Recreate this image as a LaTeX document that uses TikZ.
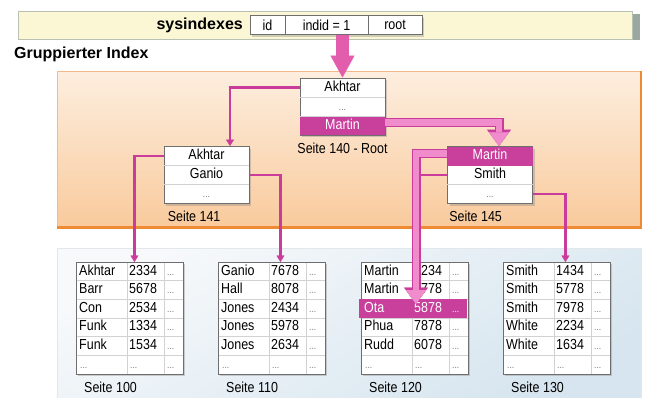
\documentclass[tikz,border=0pt]{standalone}
\usepackage{fontspec}
\setmainfont{Liberation Sans}
\newfontfamily\narrowfont[FakeStretch=0.86]{Liberation Sans}
\usetikzlibrary{arrows.meta, positioning, shadows, calc}

\definecolor{magline}{HTML}{C93C9C}
\definecolor{hilite}{HTML}{C8409C}
\definecolor{pinkfat}{HTML}{F08CCB}
\definecolor{bigpink}{HTML}{E35DAD}
\definecolor{bandfill}{HTML}{FBF7D4}
\definecolor{bandline}{HTML}{B9C2B2}
\definecolor{bandshadow}{HTML}{9AA8A0}
\definecolor{peach1}{HTML}{FDEEDF}
\definecolor{peach2}{HTML}{F9CA9C}
\definecolor{orangeline}{HTML}{EE8A34}
\definecolor{orangeedge}{HTML}{F4B98A}
\definecolor{blue1}{HTML}{F7F9FB}
\definecolor{blue2}{HTML}{D6E5EF}
\definecolor{blueline}{HTML}{E2E7EC}
\definecolor{framegray}{HTML}{6E6E6E}
\definecolor{gridgray}{HTML}{D2D2D2}
\definecolor{dotgray}{HTML}{777777}

\begin{document}
\begin{tikzpicture}[x=1pt, y=-1pt,
    every node/.style={inner sep=0pt, font=\narrowfont\fontsize{14.5}{16}\selectfont},
    frame/.style={draw=framegray, line width=0.9pt, fill=white,
        drop shadow={shadow xshift=2pt, shadow yshift=-2pt, opacity=0.35}},
    idxrow/.style={minimum width=85, minimum height=19, text height=10, text depth=2.5},
    hot/.style={fill=hilite, text=white},
    cell/.style={anchor=west, text height=10, text depth=2.5},
    dots/.style={text=dotgray, font=\narrowfont\fontsize{10}{11}\selectfont},
    grid/.style={draw=gridgray, line width=0.6pt},
    link/.style={draw=magline, line width=2.3pt, -{Triangle[width=8pt,length=6.5pt,line width=0.4pt]}},
    fatlink/.style={draw=pinkfat, line width=6.5pt, -{Triangle[width=20pt,length=14pt,line width=0.4pt]},
        preaction={draw=magline, line width=9pt, -{Triangle[width=24pt,length=16.5pt,line width=0.4pt]}}},
    bigarrow/.style={draw=bigpink, line width=13pt, -{Triangle[width=24pt,length=22pt,line width=0.4pt]}}
]
\useasboundingbox (0,0) rectangle (647,397);

% sysindexes band
\fill[bandshadow] (24,14) rectangle (640,40);
\draw[bandline, fill=bandfill, line width=0.8pt] (18,11) rectangle (632,39);
\node[anchor=east, font=\fontsize{16}{18}\selectfont\bfseries] (sysidx) at (243,25) {sysindexes};
\node[frame, minimum width=35, minimum height=19] (cid) at (267.5,25) {id};
\node[frame, minimum width=83, minimum height=19] (cindid) at (326.5,25) {indid = 1};
\node[frame, minimum width=54, minimum height=19] (croot) at (395,25) {root};

\node[anchor=west, font=\fontsize{16}{18}\selectfont\bfseries] (title) at (14,54) {Gruppierter Index};

% regions
\shade[top color=peach1, bottom color=peach2] (57,71) rectangle (641,228);
\draw[orangeedge, line width=0.8pt] (57,228) -- (57,71) -- (641,71);
\draw[orangeline, line width=2pt] (641,71) -- (641,228);
\draw[orangeline, line width=3pt] (57,227) -- (642,227);
\shade[top color=blue1, bottom color=blue2, shading angle=30] (57,248) rectangle (641,400);
\draw[blueline, line width=0.8pt] (57,400) -- (57,248) -- (641,248) -- (641,400);

% root page
\node[frame, minimum width=85, minimum height=57] (n140) at (342.5,106.5) {};
\node[idxrow] (n140a) at (342.5,87.5) {Akhtar};
\node[idxrow, dots] (n140b) at (342.5,106.5) {...};
\node[idxrow, hot] (n140c) at (342.5,125.5) {Martin};
\draw[grid] (n140a.south west) -- (n140a.south east) (n140b.south west) -- (n140b.south east);
\node[below=7pt of n140] {Seite 140 - Root};

% intermediate pages
\node[frame, minimum width=85, minimum height=57] (n141) at (206.5,175) {};
\node[idxrow] (n141a) at (206.5,156) {Akhtar};
\node[idxrow] (n141b) at (206.5,175) {Ganio};
\node[idxrow, dots] (n141c) at (206.5,194) {...};
\draw[grid] (n141a.south west) -- (n141a.south east) (n141b.south west) -- (n141b.south east);
\node[below right=7pt and 4pt of n141.south west] {Seite 141};

\node[frame, minimum width=85, minimum height=57] (n145) at (490,175) {};
\node[idxrow, hot] (n145a) at (490,156) {Martin};
\node[idxrow] (n145b) at (490,175) {Smith};
\node[idxrow, dots] (n145c) at (490,194) {...};
\draw[grid] (n145b.south west) -- (n145b.south east);
\node[below right=7pt and 2pt of n145.south west] {Seite 145};

% leaf pages
\foreach \px/\pg/\rows in {
    76/100/{Akhtar/2334,Barr/5678,Con/2534,Funk/1334,Funk/1534},
    218/110/{Ganio/7678,Hall/8078,Jones/2434,Jones/5978,Jones/2634},
    361/120/{Martin/1234,Martin/5778,Ota/5878,Phua/7878,Rudd/6078},
    503/130/{Smith/1434,Smith/5778,Smith/7978,White/2234,White/1634}}
{
  \begin{scope}[shift={(\px,262)}]
    \node[frame, anchor=north west, minimum width=107, minimum height=112] (p\pg) at (0,0) {};
    \foreach \nm/\nr [count=\i] in \rows {
      \node[cell] at (3,\i*18.6-9.3) {\nm};
      \node[cell] at (53,\i*18.6-9.3) {\nr};
      \node[cell, dots] at (91,\i*18.6-9.3) {...};
      \draw[grid] (0.5,\i*18.6) -- (106.5,\i*18.6);
    }
    \node[cell, dots] at (4,102.3) {...};
    \node[cell, dots] at (54,102.3) {...};
    \node[cell, dots] at (91,102.3) {...};
    \draw[grid] (51,0.5) -- (51,111.5) (88,0.5) -- (88,111.5);
    \node[below right=7pt and 8pt of p\pg.south west] {Seite \pg};
  \end{scope}
}

% found row
\fill[hilite] (359,299.2) rectangle (467,317.8);
\node[cell, text=white] (ota) at (364,308.5) {Ota};
\node[cell, text=white] (otanr) at (414,308.5) {5878};
\node[cell, dots, text=white] (otadots) at (452,308.5) {...};

% connectors
\coordinate (hit) at (416,304);
\draw[link] (n140a.west) -| ([xshift=23.5pt]n141.north);
\draw[link] (n141a.west) -| ([xshift=4.5pt]p100.north);
\draw[link] (n141b.east) -| ([xshift=8.5pt]p110.north);
\draw[link] (n145c.east) -| ([xshift=8.5pt]p130.north);
\draw[link, -] (n145b.west) -- (n145b.west -| hit);
\draw[fatlink] ([yshift=3pt]n140c.east) -| ([xshift=9pt]n145.north);
\draw[fatlink] ([yshift=2.5pt]n145a.west) -| (hit);
\draw[bigarrow] (n140.north |- cindid.south) -- (n140.north);
\end{tikzpicture}
\end{document}
